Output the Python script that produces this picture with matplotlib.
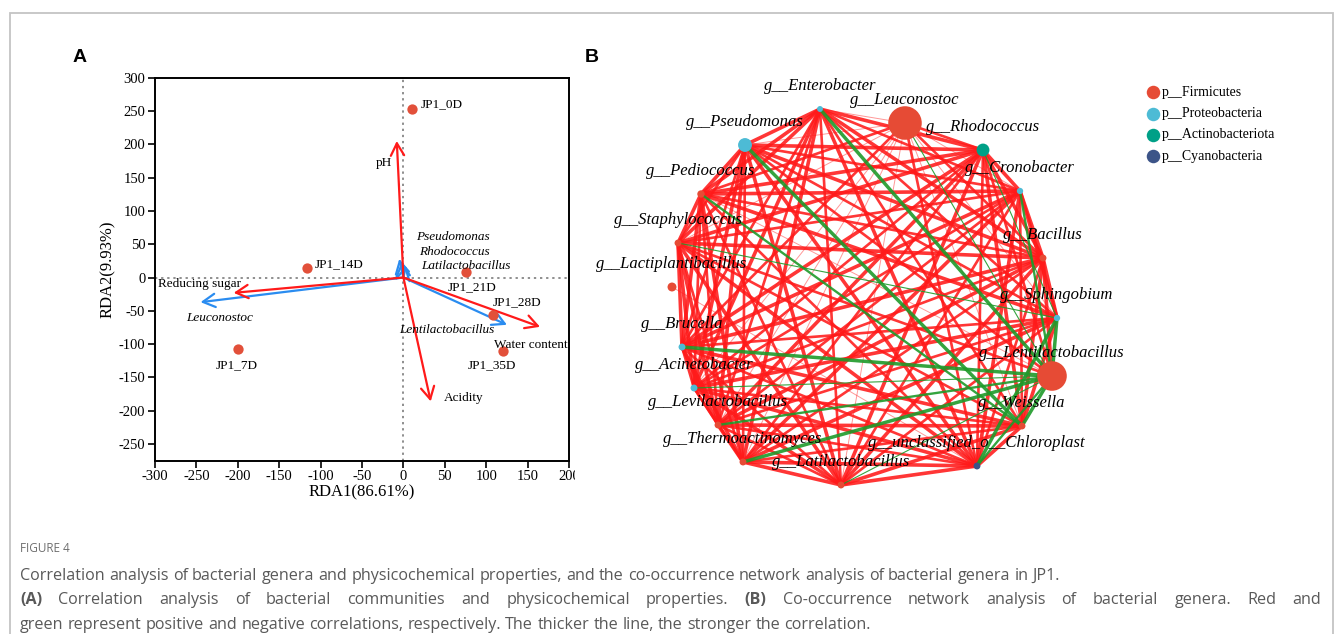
import numpy as np
import matplotlib
matplotlib.use("Agg")
import matplotlib.pyplot as plt
from matplotlib.patches import Rectangle
from matplotlib.transforms import Bbox

plt.rcParams["axes.unicode_minus"] = False

# ---- panel A: RDA ordination ----
samples = ["JP1_0D", "JP1_7D", "JP1_14D", "JP1_21D", "JP1_28D", "JP1_35D"]
sample_rda1 = [10, -200, -117, 75, 108, 120]
sample_rda2 = [253, -108, 14, 8, -57, -110]

env_vars = ["pH", "Reducing sugar", "Water content", "Acidity"]
env_rda1 = [-8, -205, 165, 33]
env_rda2 = [205, -23, -74, -186]

genera_a = ["Pseudomonas", "Rhodococcus", "Latilactobacillus", "Leuconostoc", "Lentilactobacillus"]
genus_rda1 = [-5, -2, 3, -245, 125]
genus_rda2 = [28, 24, 18, -37, -71]

xticks_a = list(range(-300, 201, 50))
yticks_a = list(range(-250, 301, 50))

# ---- panel B: co-occurrence network ----
genera_b = ["Enterobacter", "Leuconostoc", "Rhodococcus", "Cronobacter", "Bacillus",
            "Sphingobium", "Lentilactobacillus", "Weissella", "unclassified_o__Chloroplast",
            "Latilactobacillus", "Thermoactinomyces", "Levilactobacillus", "Acinetobacter",
            "Brucella", "Lactiplantibacillus", "Staphylococcus", "Pediococcus", "Pseudomonas"]
phylum_b = ["Proteobacteria", "Firmicutes", "Actinobacteriota", "Proteobacteria", "Firmicutes",
            "Proteobacteria", "Firmicutes", "Firmicutes", "Cyanobacteria",
            "Firmicutes", "Firmicutes", "Firmicutes", "Proteobacteria",
            "Proteobacteria", "Firmicutes", "Firmicutes", "Firmicutes", "Proteobacteria"]
abundance_b = [1.4, 45, 6.6, 1.6, 1.9, 1.6, 35, 1.9, 1.9, 1.9, 1.9, 1.9, 1.9, 1.9, 3.2, 1.9, 2.2, 7.7]

# circular-ish layout used for the network (pixel-like units)
layout_x = [820, 905, 983, 1020, 1043, 1057, 1052, 1022, 977, 841, 743, 718, 694, 682, 672, 678, 701, 745]
layout_y = [109, 123, 150, 191, 258, 318, 376, 426, 466, 485, 462, 425, 388, 347, 287, 243, 194, 145]

# upper triangle of the correlation network, one string per genus (edges to later genera)
# 1/2/3 = positive (weak..strong), a/b/c = negative (weak..strong), 0 = no edge
edge_table = [
    "13232c23232320333",
    "2121a12111120121",
    "33a232323230333",
    "33b23232230232",
    "3332323230323",
    "c3c232320a32",
    "cbacbac0212",
    "33232302bc",
    "332321323",
    "32320323",
    "3230232",
    "230323",
    "20323",
    "0332",
    "000",
    "32",
    "3",
]

phyla = ["Firmicutes", "Proteobacteria", "Actinobacteriota", "Cyanobacteria"]
phylum_colors = {"Firmicutes": "#E64B35", "Proteobacteria": "#4DBBD5",
                 "Actinobacteriota": "#00A087", "Cyanobacteria": "#3C5488"}

serif = "Liberation Serif"
red = "#ff1a1a"
blue = "#2a8cf0"

fig = plt.figure(figsize=(13.35, 6.34), dpi=100)
W, H = 1335, 634

# page frame
fig.add_artist(Rectangle((9.5 / W, -0.1), (1332.5 - 9.5) / W, 1.1 - 12.5 / H,
                         transform=fig.transFigure, fill=False, ec="#c4c4c4", lw=1.3))

fig.text(73 / W, 1 - 58 / H, "A", fontsize=14, fontweight="bold", family="Liberation Sans",
         ha="left", va="center")
fig.text(585 / W, 1 - 58 / H, "B", fontsize=14, fontweight="bold", family="Liberation Sans",
         ha="left", va="center")

ax = fig.add_axes([155 / W, 1 - 460.7 / H, 414 / W, 383 / H])
ax.set_xlim(-300, 200)
ax.set_ylim(-275, 300)
ax.set_xticks(xticks_a)
ax.set_yticks(yticks_a)
ax.tick_params(direction="out", length=5, width=1.2, labelsize=10.5, pad=2)
for lbl in ax.get_xticklabels() + ax.get_yticklabels():
    lbl.set_family(serif)
for sp in ax.spines.values():
    sp.set_linewidth(1.4)
ax.set_xlabel("RDA1(86.61%)", family=serif, fontsize=12, labelpad=1)
ax.set_ylabel("RDA2(9.93%)", family=serif, fontsize=12, labelpad=2)

# the last x tick label is cut by the panel edge
fig.canvas.draw()
last = ax.get_xticklabels()[-1]
last.set_clip_box(Bbox.from_extents(0, 0, 575, H))
last.set_clip_on(True)

ax.axhline(0, color="#707070", lw=1.1, ls=(0, (1.5, 2.5)), zorder=1)
ax.axvline(0, color="#707070", lw=1.1, ls=(0, (1.5, 2.5)), zorder=1)

arrow_style = "->,head_length=0.55,head_width=0.3"
for gx, gy in zip(genus_rda1, genus_rda2):
    ax.annotate("", xy=(gx, gy), xytext=(0, 0),
                arrowprops=dict(arrowstyle=arrow_style, color=blue, lw=1.6,
                                shrinkA=0, shrinkB=0, mutation_scale=16), zorder=3)
for ex, ey in zip(env_rda1, env_rda2):
    ax.annotate("", xy=(ex, ey), xytext=(0, 0),
                arrowprops=dict(arrowstyle=arrow_style, color=red, lw=1.6,
                                shrinkA=0, shrinkB=0, mutation_scale=16), zorder=4)

ax.scatter(sample_rda1, sample_rda2, s=55, color="#E2503A", zorder=5, linewidths=0)

sample_offsets = [(9, 5, "left"), (-1, -16, "center"), (8, 4, "left"),
                  (7, -15, "center"), (0, 13, "left"), (-11, -14, "center")]
for name, x, y, (dx, dy, ha) in zip(samples, sample_rda1, sample_rda2, sample_offsets):
    ax.annotate(name, (x, y), xytext=(dx, dy), textcoords="offset pixels",
                ha=ha, va="center", family=serif, fontsize=9.5, zorder=6)

env_offsets = [(-5, -22, "right"), (7, 9, "right"), (-9, -18, "center"), (13, 3, "left")]
for name, x, y, (dx, dy, ha) in zip(env_vars, env_rda1, env_rda2, env_offsets):
    ax.annotate(name, (x, y), xytext=(dx, dy), textcoords="offset pixels",
                ha=ha, va="center", family=serif, fontsize=9.5, zorder=6)

genus_offsets = [(17, 22, "left"), (17, 10, "left"), (15, 0, "left"),
                 (-14, -16, "left"), (-12, -5, "right")]
for name, x, y, (dx, dy, ha) in zip(genera_a, genus_rda1, genus_rda2, genus_offsets):
    ax.annotate(name, (x, y), xytext=(dx, dy), textcoords="offset pixels",
                ha=ha, va="center", family=serif, style="italic", fontsize=9.5, zorder=6)

# ---- network ----
axb = fig.add_axes([590 / W, 1 - 500 / H, 745 / W, 440 / H])
axb.set_xlim(590, 1335)
axb.set_ylim(500, 60)
axb.axis("off")

pos_style = {"1": (0.7, 0.45), "2": (1.9, 0.88), "3": (2.6, 0.88)}
neg_w = {"a": 0.8, "b": 1.7, "c": 2.5}
green_edges = []
for i, row in enumerate(edge_table):
    for k, code in enumerate(row):
        j = i + 1 + k
        xs = [layout_x[i], layout_x[j]]
        ys = [layout_y[i], layout_y[j]]
        if code in pos_style:
            w, a = pos_style[code]
            axb.plot(xs, ys, color=red, lw=w, alpha=a, solid_capstyle="round", zorder=1)
        elif code in neg_w:
            green_edges.append((xs, ys, neg_w[code]))
for xs, ys, w in green_edges:
    axb.plot(xs, ys, color="#1f9a2a", lw=w, alpha=0.9, solid_capstyle="round", zorder=2)

radius = 2.5 * np.sqrt(np.array(abundance_b))
node_colors = [phylum_colors[p] for p in phylum_b]
axb.scatter(layout_x, layout_y, s=(2 * radius * 0.72) ** 2, c=node_colors,
            linewidths=0, zorder=3)

for name, x, y in zip(genera_b, layout_x, layout_y):
    axb.annotate("g__" + name, (x, y), xytext=(0, 23), textcoords="offset pixels",
                 ha="center", va="center", family=serif, style="italic",
                 fontsize=12, zorder=5)

for k, p in enumerate(phyla):
    ly = 92.3 + 21.3 * k
    axb.scatter([1153], [ly], s=(13.5 * 0.72) ** 2, color=phylum_colors[p], linewidths=0,
                zorder=5, clip_on=False)
    axb.text(1162, ly, "p__" + p, family=serif, fontsize=10, ha="left", va="center")

# ---- caption ----
cap_font = "Open Sans"
cap_color = "#595959"
cap_size = 11.65
fig.text(20 / W, 1 - 549 / H, "FIGURE 4", family=cap_font, fontsize=8.5, color="#6e6e6e",
         va="center")

renderer = fig.canvas.get_renderer()


def caption_line(runs, y_px, justify_to=None):
    # runs: list of (text, bold); optional full justification to a right edge in pixels
    words = []
    for txt, bold in runs:
        for wd in txt.split():
            words.append((wd, bold))
    texts = []
    for wd, bold in words:
        t = fig.text(0, 1 - y_px / H, wd, family=cap_font, fontsize=cap_size,
                     color=cap_color, va="center", fontweight="bold" if bold else "normal")
        texts.append(t)
    widths = [t.get_window_extent(renderer).width for t in texts]
    probe = fig.text(0, 0, "a a", family=cap_font, fontsize=cap_size)
    probe2 = fig.text(0, 0, "aa", family=cap_font, fontsize=cap_size)
    space = probe.get_window_extent(renderer).width - probe2.get_window_extent(renderer).width
    probe.remove()
    probe2.remove()
    if justify_to is not None and len(words) > 1:
        space = (justify_to - 20.0 - sum(widths)) / (len(words) - 1)
    x = 20.0
    for t, w in zip(texts, widths):
        t.set_x(x / W)
        x += w + space


caption_line([("Correlation analysis of bacterial genera and physicochemical properties, and the "
               "co-occurrence network analysis of bacterial genera in JP1.", False)], 576)
caption_line([("(A)", True),
              (" Correlation analysis of bacterial communities and physicochemical properties. ", False),
              ("(B)", True),
              (" Co-occurrence network analysis of bacterial genera. Red and", False)], 600,
             justify_to=1321)
caption_line([("green represent positive and negative correlations, respectively. The thicker "
               "the line, the stronger the correlation.", False)], 625)

fig.savefig("out.png", dpi=100)
